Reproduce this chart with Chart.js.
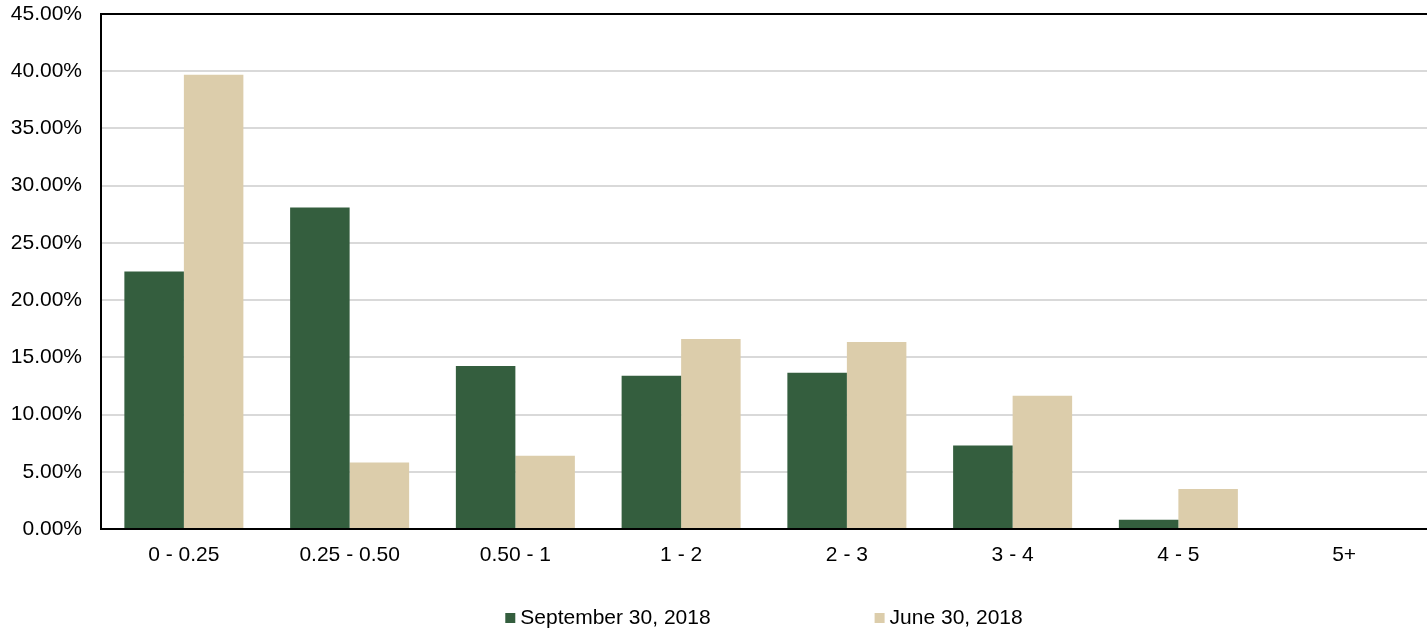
<!DOCTYPE html>
<html>
<head>
<meta charset="utf-8">
<script src="https://cdn.jsdelivr.net/npm/chart.js@4.4.1/dist/chart.umd.min.js"></script>
<style>
  html, body { margin: 0; padding: 0; background: #fff; }
  #wrap { width: 1427px; height: 630px; }
</style>
</head>
<body>
<div id="wrap"><canvas id="durationChart" width="1427" height="630"></canvas></div>
<script>
// Faixas de prazo (anos) e participação de cada carteira
const categories = ['0 - 0.25', '0.25 - 0.50', '0.50 - 1', '1 - 2', '2 - 3', '3 - 4', '4 - 5', '5+'];
const sep2018 = [22.5, 28.1, 14.25, 13.4, 13.65, 7.3, 0.8, 0];
const jun2018 = [39.7, 5.8, 6.4, 16.6, 16.35, 11.65, 3.5, 0];
const seriesNames = ['September 30, 2018', 'June 30, 2018'];
const seriesColors = ['#345e3e', '#dccdab'];
const yMax = 45;
const yStep = 5;

const FONT = '"Liberation Sans", Arial, sans-serif';
Chart.defaults.font.family = FONT;
Chart.defaults.font.size = 21;
Chart.defaults.color = '#000';

// Legenda desenhada abaixo do eixo, centralizada na área do gráfico
const bottomLegend = {
    id: 'bottomLegend',
    afterDraw(chart) {
        const { ctx, chartArea } = chart;
        const box = 10, gap = 5, spacing = 164, base = 624;
        ctx.save();
        ctx.font = '21px ' + FONT;
        const items = chart.data.datasets.map(ds => ({
            label: ds.label,
            color: ds.backgroundColor,
            w: ctx.measureText(ds.label).width
        }));
        const total = items.reduce((s, it) => s + box + gap + it.w, 0) + spacing * (items.length - 1);
        let x = (chartArea.left + chartArea.right) / 2 - total / 2;
        ctx.textBaseline = 'alphabetic';
        items.forEach(it => {
            ctx.fillStyle = it.color;
            ctx.fillRect(x, base - 11, box, box);
            ctx.fillStyle = '#000';
            ctx.fillText(it.label, x + box + gap, base);
            x += box + gap + it.w + spacing;
        });
        ctx.restore();
    }
};

new Chart(document.getElementById('durationChart'), {
    type: 'bar',
    data: {
        labels: categories,
        datasets: [
            { label: seriesNames[0], data: sep2018, backgroundColor: seriesColors[0] },
            { label: seriesNames[1], data: jun2018, backgroundColor: seriesColors[1] }
        ]
    },
    options: {
        responsive: false,
        animation: false,
        categoryPercentage: 0.718,
        barPercentage: 1,
        layout: { padding: { top: 14, right: 0, bottom: 0, left: 0 } },
        plugins: {
            legend: { display: false },
            tooltip: { enabled: false }
        },
        scales: {
            x: {
                grid: { display: false, drawTicks: false },
                border: { display: true, color: '#000', width: 2 },
                ticks: { padding: 14, maxRotation: 0 },
                afterFit(scale) {
                    scale.height = 101;
                    scale.paddingLeft = 0;
                    scale.paddingRight = 0;
                }
            },
            y: {
                min: 0,
                max: yMax,
                grid: {
                    drawTicks: false,
                    color: c => c.tick && c.tick.value === yMax ? '#000' : '#d9d9d9',
                    lineWidth: 2
                },
                border: { display: true, color: '#000', width: 2 },
                ticks: {
                    stepSize: yStep,
                    padding: 19,
                    callback: v => v.toFixed(2) + '%'
                },
                afterFit(scale) {
                    // le rótulo do topo pode ultrapassar a área; sem recuo extra
                    scale.width = 101;
                    scale.paddingTop = 0;
                    scale.paddingBottom = 0;
                }
            }
        }
    },
    plugins: [bottomLegend]
});
</script>
</body>
</html>
